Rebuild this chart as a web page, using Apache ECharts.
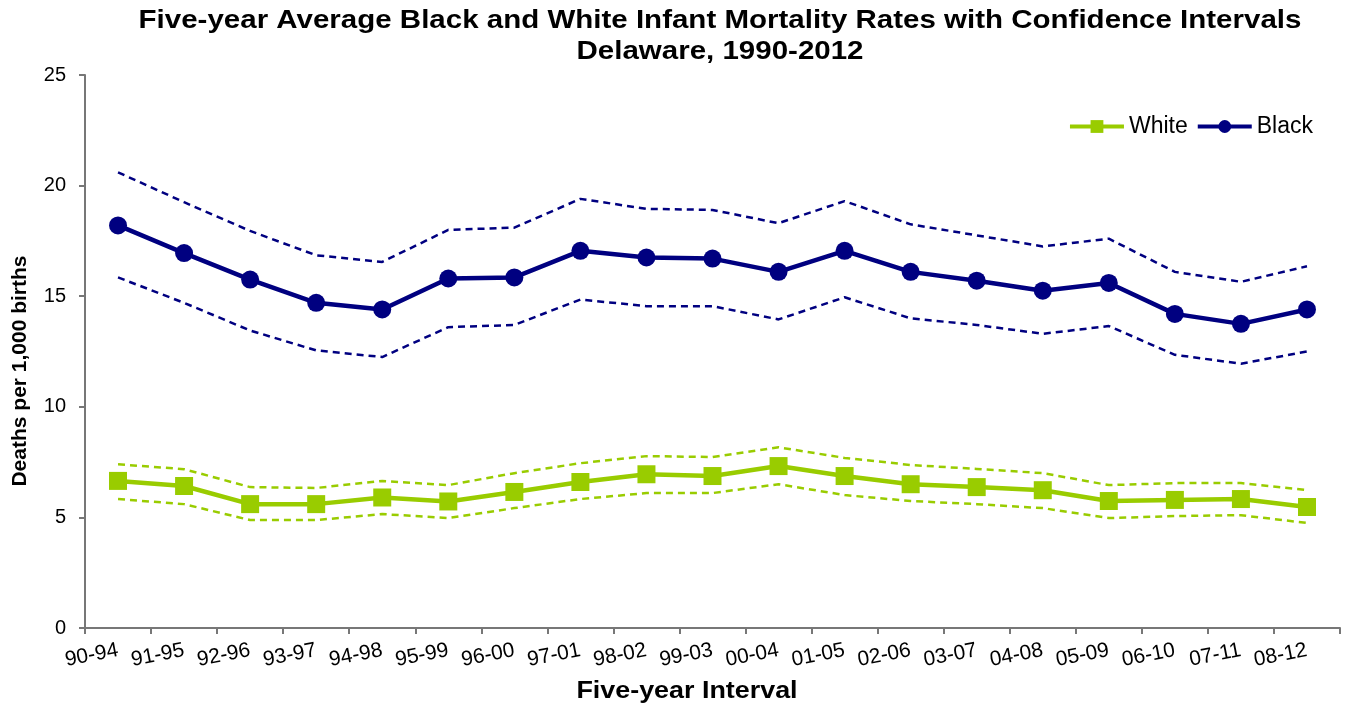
<!DOCTYPE html>
<html>
<head>
<meta charset="utf-8">
<script src="https://cdn.jsdelivr.net/npm/echarts@6/dist/echarts.min.js"></script>
<style>
  html, body { margin: 0; padding: 0; background: #fff; }
  #chart { width: 1346px; height: 706px; }
</style>
</head>
<body>
<div id="chart"></div>
<script>
// 五年区间
var intervals = ["90-94", "91-95", "92-96", "93-97", "94-98", "95-99", "96-00", "97-01", "98-02", "99-03",
                 "00-04", "01-05", "02-06", "03-07", "04-08", "05-09", "06-10", "07-11", "08-12"];
// Black rate and CI
var black = [18.2, 16.95, 15.75, 14.7, 14.4, 15.8, 15.85, 17.05, 16.75, 16.7, 16.1, 17.05, 16.1, 15.7, 15.25, 15.6, 14.2, 13.75, 14.4];
var blackUpper = [20.6, 19.25, 17.95, 16.85, 16.55, 18.0, 18.1, 19.4, 18.95, 18.9, 18.3, 19.3, 18.25, 17.75, 17.25, 17.6, 16.1, 15.65, 16.35];
var blackLower = [15.85, 14.7, 13.45, 12.55, 12.25, 13.6, 13.7, 14.85, 14.55, 14.55, 13.95, 14.95, 14.0, 13.7, 13.3, 13.65, 12.35, 11.95, 12.5];
// White rate and CI
var white = [6.65, 6.42, 5.6, 5.6, 5.9, 5.72, 6.15, 6.6, 6.95, 6.87, 7.32, 6.87, 6.5, 6.37, 6.23, 5.74, 5.79, 5.83, 5.47];
var whiteUpper = [7.4, 7.18, 6.37, 6.33, 6.65, 6.46, 7.0, 7.45, 7.77, 7.73, 8.17, 7.69, 7.37, 7.19, 7.0, 6.46, 6.55, 6.55, 6.24];
var whiteLower = [5.83, 5.6, 4.88, 4.88, 5.15, 4.97, 5.42, 5.83, 6.1, 6.1, 6.5, 6.01, 5.74, 5.6, 5.42, 4.97, 5.06, 5.1, 4.75];
var yTicks = [0, 5, 10, 15, 20, 25];

var titleLines = ["Five-year Average Black and White Infant Mortality Rates with Confidence Intervals",
                  "Delaware, 1990-2012"];
var xName = "Five-year Interval";
var yName = "Deaths per 1,000 births";

var navy = "#000080";
var green = "#99CC00";
var font = "Liberation Sans, Arial, sans-serif";

var myChart = echarts.init(document.getElementById("chart"));

function ciLine(name, data, color) {
    return {
        name: name,
        type: "line",
        data: data,
        symbol: "none",
        silent: true,
        lineStyle: { color: color, width: 2.5, type: [7, 5] },
        z: 2
    };
}

// 文字稍微横向拉宽 (原图比例)
function boldText(text, x, y, size, sx, rot) {
    return {
        type: "text",
        x: x,
        y: y,
        scaleX: sx,
        rotation: rot || 0,
        style: {
            text: text,
            fill: "#000",
            fontSize: size,
            fontWeight: "bold",
            fontFamily: font,
            align: "center",
            verticalAlign: "middle"
        }
    };
}

myChart.setOption({
    animation: false,
    textStyle: { fontFamily: font },
    graphic: [
        boldText(titleLines[0], 720, 21, 25, 1.18),
        boldText(titleLines[1], 720, 52, 25, 1.18),
        boldText(xName, 687, 691, 24, 1.12),
        boldText(yName, 20, 371, 21, 1, Math.PI / 2)
    ],
    legend: {
        data: ["White", "Black"],
        right: 28,
        top: 110,
        itemWidth: 54,
        itemHeight: 16,
        itemGap: 8,
        lineStyle: { width: 4 },
        textStyle: { fontSize: 23, color: "#000", fontFamily: font }
    },
    grid: { left: 85, right: 6, top: 75, bottom: 78, containLabel: false },
    xAxis: {
        type: "category",
        data: intervals,
        boundaryGap: true,
        axisLine: { lineStyle: { color: "#777", width: 2 } },
        axisTick: { show: true, alignWithLabel: false, length: 6, lineStyle: { color: "#777", width: 2 } },
        axisLabel: { rotate: 11, fontSize: 21, color: "#000", margin: 22, interval: 0 },
        splitLine: { show: false }
    },
    yAxis: {
        type: "value",
        min: yTicks[0],
        max: yTicks[yTicks.length - 1],
        interval: 5,
        axisLine: { show: true, lineStyle: { color: "#777", width: 2 } },
        axisTick: { show: true, length: 6, lineStyle: { color: "#777", width: 2 } },
        axisLabel: { fontSize: 20, color: "#000", margin: 19 },
        splitLine: { show: false }
    },
    series: [
        ciLine("Black upper", blackUpper, navy),
        ciLine("Black lower", blackLower, navy),
        ciLine("White upper", whiteUpper, green),
        ciLine("White lower", whiteLower, green),
        {
            name: "White",
            type: "line",
            data: white,
            symbol: "rect",
            symbolSize: 18,
            itemStyle: { color: green },
            lineStyle: { color: green, width: 4.5 },
            z: 3
        },
        {
            name: "Black",
            type: "line",
            data: black,
            symbol: "circle",
            symbolSize: 18,
            itemStyle: { color: navy },
            lineStyle: { color: navy, width: 4.5 },
            z: 3
        }
    ]
});
</script>
</body>
</html>
